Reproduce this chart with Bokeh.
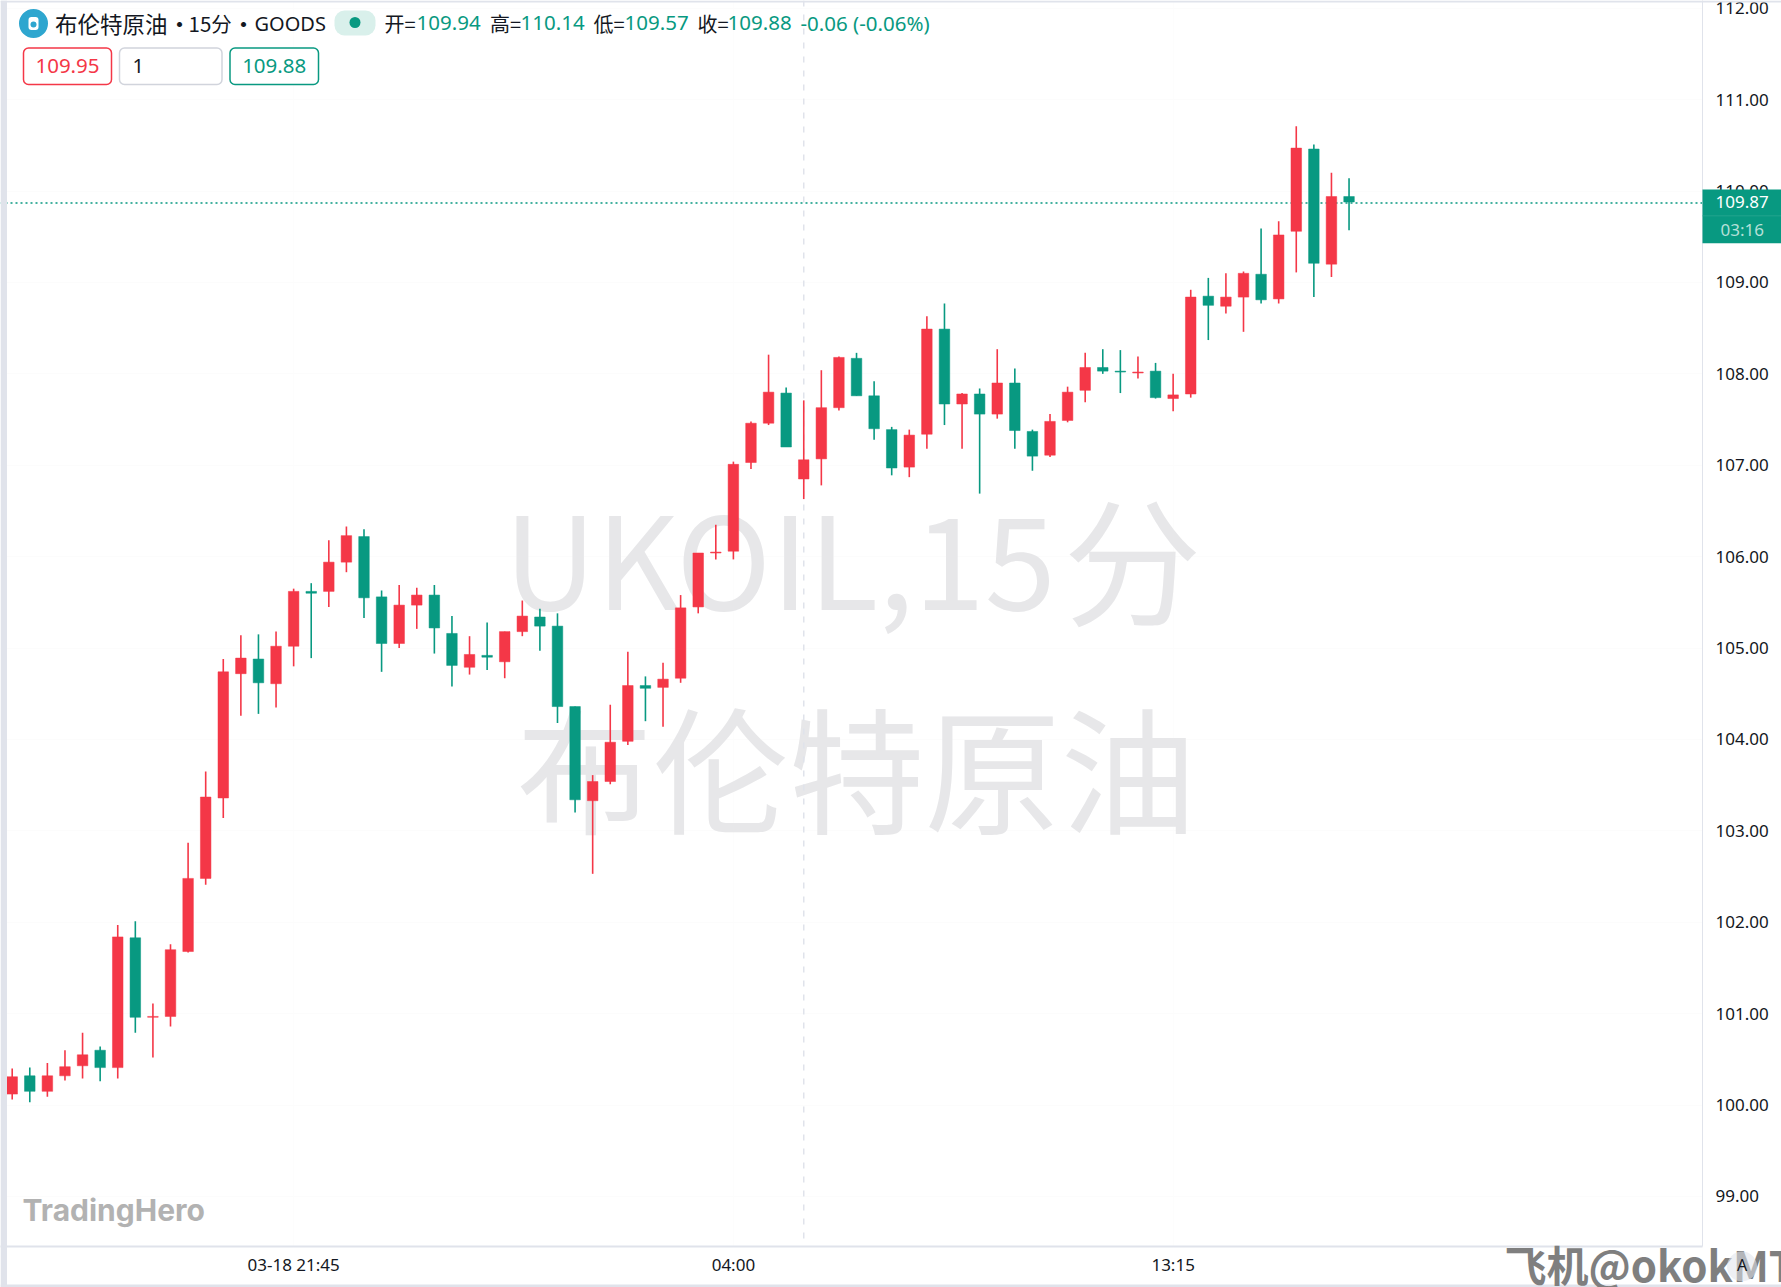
from bokeh.plotting import figure
from bokeh.layouts import column
from bokeh.core.properties import value
from bokeh.models import (ColumnDataSource, Range1d, FixedTicker, NumeralTickFormatter, Span, Label)
from bokeh.embed import file_html
from bokeh.resources import INLINE

opens = [100.12,100.32,100.15,100.32,100.43,100.60,100.41,101.83,100.96,100.97,101.68,102.48,103.36,104.72,104.88,104.61,105.02,105.62,105.62,105.94,106.22,105.56,105.05,105.47,105.58,105.16,104.79,104.92,104.85,105.18,105.34,105.24,104.36,103.33,103.54,103.98,104.59,104.57,104.67,105.45,106.04,106.06,107.03,107.46,107.79,106.85,107.07,107.63,108.17,107.76,107.39,106.98,107.34,108.49,107.67,107.78,107.56,107.90,107.37,107.11,107.49,107.82,108.07,108.03,108.01,108.03,107.73,107.78,108.85,108.74,108.84,109.09,108.82,109.56,110.46,109.20,109.94]
highs = [100.40,100.41,100.46,100.60,100.79,100.64,101.97,102.01,101.11,101.76,102.87,103.65,104.88,105.14,105.15,105.18,105.65,105.71,106.18,106.33,106.30,105.63,105.69,105.66,105.69,105.35,105.13,105.28,105.18,105.52,105.43,105.38,104.36,103.61,104.38,104.96,104.69,104.84,105.58,106.04,106.35,107.04,107.48,108.21,107.85,107.71,108.04,108.19,108.23,107.92,107.42,107.39,108.63,108.77,107.79,107.84,108.27,108.06,107.39,107.56,107.86,108.23,108.27,108.26,108.19,108.12,108.00,108.92,109.05,109.10,109.12,109.59,109.67,110.71,110.51,110.20,110.14]
lows = [100.06,100.03,100.09,100.27,100.29,100.26,100.29,100.79,100.52,100.86,101.67,102.41,103.14,104.26,104.28,104.35,104.80,104.89,105.45,105.83,105.33,104.74,105.00,105.21,104.94,104.58,104.71,104.76,104.67,105.13,104.97,104.18,103.20,102.53,103.51,103.94,104.20,104.14,104.62,105.38,105.97,105.97,106.96,107.44,107.20,106.63,106.78,107.60,107.76,107.28,106.89,106.87,107.18,107.44,107.18,106.69,107.51,107.18,106.94,107.09,107.47,107.69,108.00,107.79,107.95,107.73,107.59,107.74,108.37,108.66,108.46,108.77,108.77,109.11,108.84,109.06,109.57]
closes = [100.31,100.15,100.32,100.42,100.55,100.41,101.84,100.96,100.97,101.70,102.48,103.37,104.74,104.89,104.62,105.02,105.62,105.60,105.94,106.23,105.55,105.05,105.47,105.58,105.22,104.81,104.93,104.90,105.18,105.35,105.24,104.36,103.34,103.54,103.97,104.59,104.56,104.66,105.44,106.04,106.05,107.01,107.46,107.80,107.20,107.06,107.63,108.18,107.76,107.40,106.97,107.33,108.49,107.67,107.78,107.56,107.90,107.38,107.10,107.48,107.80,108.07,108.03,108.02,108.02,107.74,107.77,108.84,108.75,108.84,109.10,108.81,109.52,110.47,109.21,109.94,109.88]

y_ticks = [99,100,101,102,103,104,105,106,107,108,109,110,111,112]
x_ticks = [16,41,66]
x_labels = ["03-18 21:45","04:00","13:15"]
last_price = 109.87
crosshair_index = 45

UP, DOWN = "#f43747", "#089981"
BORDER = "#e0e3eb"
INK = "#131722"
CJK = "Noto Sans CJK SC"
NUM = "Noto Sans"
W, H = 1781, 1287
FRAME_W, FRAME_H = 1702, 1246
PX_PER_BAR, PX_PER_UNIT = 17.59, 91.4
X0 = -11.7 / PX_PER_BAR
Y_TOP = 112.085

def xp(px): return X0 + px / PX_PER_BAR
def yp(py): return Y_TOP - py / PX_PER_UNIT

n = len(opens)
src = ColumnDataSource(dict(
    x=list(range(n)), o=opens, h=highs, l=lows, c=closes,
    top=[max(a, b) for a, b in zip(opens, closes)],
    bottom=[min(a, b) for a, b in zip(opens, closes)],
    color=[UP if c >= o else DOWN for o, c in zip(opens, closes)],
))

# main chart: candles, axes, watermark
p = figure(width=W, height=H, output_backend="svg", toolbar_location=None,
           x_range=Range1d(xp(0), xp(FRAME_W)), y_range=Range1d(yp(FRAME_H), yp(0)),
           y_axis_location="right", min_border_left=0, min_border_top=0,
           min_border_right=W-FRAME_W, min_border_bottom=H-FRAME_H,
           background_fill_color="white", border_fill_color="white", frame_align=False)
p.outline_line_color = None

p.ygrid.grid_line_color = "#fcfcfc"
p.xgrid.grid_line_color = "#fdfdfd"
p.ygrid.ticker = FixedTicker(ticks=y_ticks)
p.xgrid.ticker = FixedTicker(ticks=x_ticks)

ya = p.yaxis[0]
ya.ticker = FixedTicker(ticks=y_ticks)
ya.formatter = NumeralTickFormatter(format="0.00")
ya.major_tick_line_color = None
ya.minor_tick_line_color = None
ya.axis_line_color = BORDER
ya.major_label_text_font = NUM
ya.major_label_text_font_size = "17px"
ya.major_label_text_color = INK
ya.major_label_standoff = 7

xa = p.xaxis[0]
xa.ticker = FixedTicker(ticks=x_ticks)
xa.major_label_overrides = dict(zip(x_ticks, x_labels))
xa.major_tick_line_color = None
xa.minor_tick_line_color = None
xa.axis_line_color = BORDER
xa.axis_line_width = 2
xa.major_label_text_font = NUM
xa.major_label_text_font_size = "17px"
xa.major_label_text_color = INK
xa.major_label_standoff = 0

for x_, y_, s, size, al in [(503.5, 554, "UKOIL,15", 128, "left"), (1132, 554, "分", 138, "center"),
                            (856, 764, "布伦特原油", 136, "center")]:
    p.add_layout(Label(x=xp(x_), y=yp(y_), text=s, text_color="#e7e7e9", text_font=CJK,
                       text_font_size=f"{size}px", text_align=al, text_baseline="middle",
                       level="underlay"))

p.add_layout(Span(location=crosshair_index, dimension="height", line_color=BORDER, line_width=1.5,
                  line_dash="6 8", level="underlay"))
p.add_layout(Span(location=last_price, dimension="width", line_color=DOWN, line_width=1.5,
                  line_dash="2 3", level="underlay"))

p.segment("x", "h", "x", "l", source=src, line_color="color", line_width=1.6)
p.vbar("x", 0.6, "top", "bottom", source=src, fill_color="color", line_color="color", line_width=0.5)

# transparent layer on top, in page pixels: header, tag, borders, corner texts
q = figure(width=W, height=H, output_backend="svg", toolbar_location=None,
           x_range=Range1d(0, W), y_range=Range1d(H, 0), x_axis_location=None, y_axis_location=None,
           min_border=0, background_fill_alpha=0, border_fill_alpha=0, frame_align=False)
q.styles = {"margin-top": f"-{H}px"}
q.outline_line_color = None
q.grid.visible = False

def text(px, py, s, color=INK, size=20, font=NUM, align="left", style="normal"):
    q.add_layout(Label(x=px, y=py, text=s, text_color=color, text_font=font,
                       text_font_size=f"{size}px", text_align=align, text_baseline="middle",
                       text_font_style=style))

def box(l, r, t, b, **kw):
    kw.setdefault("line_color", None)
    q.quad(left=[l], right=[r], top=[t], bottom=[b], **kw)

# borders of the pane
box(0, 6.5, 0, H, fill_color=BORDER)
box(0, W, 0, 2, fill_color=BORDER)
box(0, W, 1284, H, fill_color=BORDER)

# last-price tag on the axis
box(1702, W, 189, 242.7, fill_color=DOWN)
box(1702, W, 214.9, 215.7, fill_color="#2aa892")
text(1741.7, 201.5, f"{last_price:.2f}", "white", 17, align="center")
text(1741.7, 229, "03:16", "#b5e0d8", 17, align="center")

# header: icon, title, status pill
q.scatter([33], [23], size=29, fill_color="#2ea6cf", line_color=None)
box(28, 38, 16.5, 29.5, fill_color="white", border_radius=3)
q.scatter([33], [24], size=6, fill_color="#2ea6cf", line_color=None)
text(54.5, 22.5, "布伦特原油", size=22.5, font=CJK)
text(169, 22.5, "·", size=20, font=CJK, style="bold")
text(188, 22.5, "15分", size=20.5, font=CJK)
text(233, 22.5, "·", size=20, font=CJK, style="bold")
text(254, 22.5, "GOODS", size=20)
box(334, 375, 10, 35, fill_color="#d9f0eb", border_radius=10)
q.scatter([354.5], [22], size=11, fill_color=DOWN, line_color=None)

# OHLC strip
for x_, s, c in [(384, "开=", INK), (416, "109.94", DOWN), (489.5, "高=", INK), (520, "110.14", DOWN),
                 (593, "低=", INK), (624, "109.57", DOWN), (697, "收=", INK), (727, "109.88", DOWN),
                 (800, "-0.06 (-0.06%)", DOWN)]:
    text(x_, 22.5, s, c, 20 if c != DOWN else 20.5, CJK if c != DOWN else NUM)

# order buttons
for l_, r_, c in [(23, 111, UP), (119, 221.5, "#d1d4dc"), (229.5, 318, DOWN)]:
    box(l_, r_, 47.5, 84, fill_color="white", line_color=c, line_width=1.5, border_radius=5)
text(67, 65.5, "109.95", UP, 20.5, align="center")
text(132, 65.5, "1", INK, 20)
text(273.7, 65.5, "109.88", DOWN, 20.5, align="center")

# logo and corner texts
text(22, 1209, "TradingHero", "#b2b2b2", 30, "Inter", style="bold")
q.text([1504], [1263], text=["飞机@okokMT"], text_color="#7f7f7f", text_font=value(CJK),
       text_font_size="42px", text_font_style="bold", text_baseline="middle")
q.scatter([1741.5], [1266], size=30, fill_color=BORDER, fill_alpha=0.55, line_color=None)
text(1741.5, 1264, "A", INK, 16, align="center")

root = column(p, q, spacing=0, width=W, height=H)
root.styles = {"position": "absolute", "left": "0px", "top": "0px"}
open("out.html", "w").write(file_html(root, INLINE))
